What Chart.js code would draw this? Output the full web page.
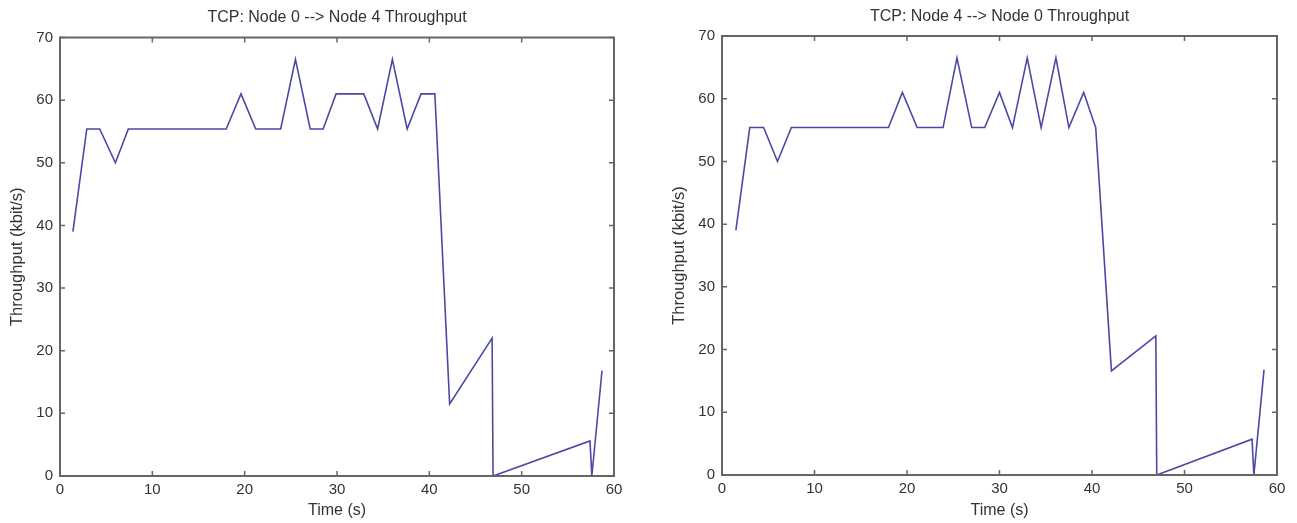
<!DOCTYPE html>
<html>
<head>
<meta charset="utf-8">
<script src="https://cdn.jsdelivr.net/npm/chart.js@4.4.1/dist/chart.umd.min.js"></script>
<style>
  html, body { margin: 0; padding: 0; background: #fff; }
  #wrap { position: relative; width: 1297px; height: 523px; }
  .box { position: absolute; top: 0; height: 523px; }
  #boxA { left: 0; width: 662px; }
  #boxB { left: 662px; width: 635px; }
</style>
</head>
<body>
<div id="wrap">
  <div class="box" id="boxA"><canvas id="chartA"></canvas></div>
  <div class="box" id="boxB"><canvas id="chartB"></canvas></div>
</div>
<script>
/* DATA */
const timeTicks = [0, 10, 20, 30, 40, 50, 60];
const rateTicks = [0, 10, 20, 30, 40, 50, 60, 70];

const time0to4 = [1.4, 2.9, 4.3, 6.0, 7.4, 18.0, 19.6, 21.2, 23.9, 25.5, 27.1, 28.5, 29.9, 32.9, 34.4, 36.0, 37.6, 39.1, 40.6, 42.2, 46.8, 46.9, 57.4, 57.6, 58.7];
const rate0to4 = [39, 55.4, 55.4, 50, 55.4, 55.4, 61, 55.4, 55.4, 66.5, 55.4, 55.4, 61, 61, 55.4, 66.5, 55.4, 61, 61, 11.5, 22, 0, 5.6, 0, 16.8];

const time4to0 = [1.5, 3.0, 4.5, 6.0, 7.5, 18.0, 19.5, 21.1, 23.9, 25.4, 27.0, 28.4, 30.0, 31.4, 33.0, 34.5, 36.1, 37.5, 39.1, 40.4, 42.1, 46.9, 47.0, 57.3, 57.5, 58.6];
const rate4to0 = [39, 55.4, 55.4, 50, 55.4, 55.4, 61, 55.4, 55.4, 66.5, 55.4, 55.4, 61, 55.4, 66.5, 55.4, 66.5, 55.4, 61, 55.4, 16.6, 22.2, 0, 5.7, 0, 16.8];

const textColor = "#333";
const axisColor = "#666";
const lineColor = "#4a4aa6";
const fontFamily = "'Liberation Sans', Arial, sans-serif";

/* MATLAB-like box with inward ticks */
const boxAxes = {
    id: "boxAxes",
    afterDraw(chart){
        const ctx = chart.ctx;
        const a = chart.chartArea;
        const xs = chart.scales.x, ys = chart.scales.y;
        const len = 5;
        ctx.save();
        ctx.strokeStyle = axisColor;
        ctx.lineWidth = 2;
        ctx.strokeRect(a.left, a.top, a.right - a.left, a.bottom - a.top);
        ctx.lineWidth = 1.5;
        ctx.beginPath();
        xs.ticks.forEach(t=>{
            const px = xs.getPixelForValue(t.value);
            ctx.moveTo(px, a.bottom); ctx.lineTo(px, a.bottom - len);
            ctx.moveTo(px, a.top); ctx.lineTo(px, a.top + len);
        });
        ys.ticks.forEach(t=>{
            const py = ys.getPixelForValue(t.value);
            ctx.moveTo(a.left, py); ctx.lineTo(a.left + len, py);
            ctx.moveTo(a.right, py); ctx.lineTo(a.right - len, py);
        });
        ctx.stroke();
        ctx.restore();
    }
};

function makeChart(id, title, times, rates, g){
    return new Chart(document.getElementById(id), {
        type: "line",
        data: {
            datasets: [{
                data: times.map((t, i)=>({x: t, y: rates[i]})),
                borderColor: lineColor,
                borderWidth: 1.6,
                pointRadius: 0,
                tension: 0,
                fill: false
            }]
        },
        options: {
            responsive: true,
            maintainAspectRatio: false,
            animation: false,
            layout: { padding: { left: 0, right: g.right, top: 0, bottom: 0 } },
            plugins: {
                legend: { display: false },
                tooltip: { enabled: false },
                title: {
                    display: true,
                    fullSize: false,
                    text: title,
                    color: textColor,
                    font: { family: fontFamily, size: 16, weight: "normal" },
                    padding: { top: g.titleTop, bottom: g.titleBottom }
                }
            },
            scales: {
                x: {
                    type: "linear",
                    min: 0, max: 60,
                    afterBuildTicks: s=>{ s.ticks = timeTicks.map(v=>({value: v})); },
                    afterFit: s=>{ s.height = g.xHeight; },
                    grid: { display: false, drawTicks: false },
                    border: { display: false },
                    ticks: { color: textColor, padding: 5, font: { family: fontFamily, size: 15 } },
                    title: {
                        display: true, text: "Time (s)", color: textColor,
                        font: { family: fontFamily, size: 16 },
                        padding: { top: 0, bottom: 2.4 }
                    }
                },
                y: {
                    min: 0, max: 70,
                    afterBuildTicks: s=>{ s.ticks = rateTicks.map(v=>({value: v})); },
                    afterFit: s=>{ s.width = 60; },
                    grid: { display: false, drawTicks: false },
                    border: { display: false },
                    ticks: { color: textColor, padding: 7, font: { family: fontFamily, size: 15 } },
                    title: {
                        display: true, text: "Throughput (kbit/s)", color: textColor,
                        font: { family: fontFamily, size: 16.5 },
                        padding: { top: 8, bottom: 0 }
                    }
                }
            }
        },
        plugins: [boxAxes]
    });
}

makeChart("chartA", "TCP: Node 0 --> Node 4 Throughput", time0to4, rate0to4,
    { right: 48, titleTop: 8.4, titleBottom: 9.9, xHeight: 47 });
makeChart("chartB", "TCP: Node 4 --> Node 0 Throughput", time4to0, rate4to0,
    { right: 20, titleTop: 6.9, titleBottom: 9.9, xHeight: 48 });
</script>
</body>
</html>
